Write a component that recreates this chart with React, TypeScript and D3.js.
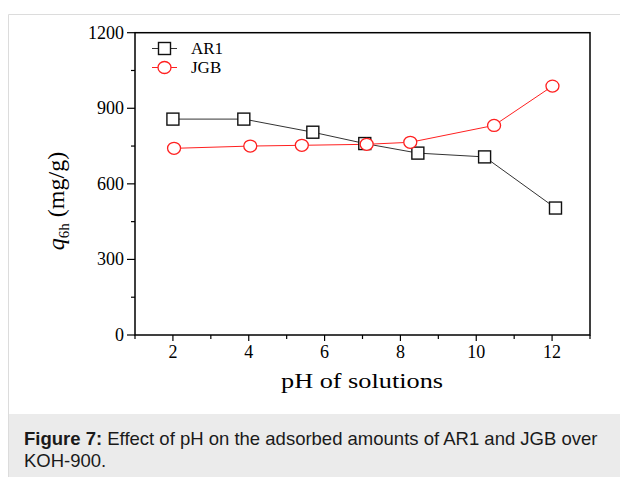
import React from "react";
import * as d3 from "d3";

const phAR1 = [2.0, 3.87, 5.69, 7.06, 8.46, 10.22, 12.09];
const qAR1 = [857, 857, 805, 760, 722, 707, 504];
const phJGB = [2.03, 4.04, 5.4, 7.11, 8.26, 10.47, 12.01];
const qJGB = [741, 750, 753, 757, 765, 832, 988];
const xMajor = [2, 4, 6, 8, 10, 12];
const xMinor = [1, 3, 5, 7, 9, 11, 13];
const yMajor = [0, 300, 600, 900, 1200];
const yMinor = [150, 450, 750, 1050];
const seriesNames = ["AR1", "JGB"];

export default function App() {
  const W = 620, H = 477;
  const L = 135, R = 590, T = 32.7, B = 335;
  const x = d3.scaleLinear().domain([1, 13]).range([L, R]);
  const y = d3.scaleLinear().domain([0, 1200]).range([B, T]);
  const ar1 = phAR1.map((p, i) => [x(p), y(qAR1[i])] as [number, number]);
  const jgb = phJGB.map((p, i) => [x(p), y(qJGB[i])] as [number, number]);
  const pathGen = d3.line();
  const serif = "'Liberation Serif', 'Times New Roman', serif";
  const sans = "'Liberation Sans', Arial, Helvetica, sans-serif";
  return (
    <svg width={W} height={H} style={{ position: "absolute", left: 0, top: 0, background: "#fff" }}>
      {/* frame of page */}
      <line x1={8.5} y1={14.5} x2={W} y2={14.5} stroke="#dcdcdc" />
      <line x1={8.5} y1={14.5} x2={8.5} y2={H} stroke="#dcdcdc" />
      <rect x={9} y={414} width={W - 9} height={H - 414} fill="#ebebeb" />
      <text x={24} y={445} fontFamily={sans} fontSize={18.5} fill="#1a1a1a">
        <tspan fontWeight="bold">Figure 7:</tspan> Effect of pH on the adsorbed amounts of AR1 and JGB over
      </text>
      <text x={24} y={467} fontFamily={sans} fontSize={18.5} fill="#1a1a1a">KOH-900.</text>

      {/* plot frame */}
      <rect x={L} y={T} width={R - L} height={B - T} fill="none" stroke="#000" strokeWidth={1.5} />
      {xMajor.map((v) => (
        <g key={"xm" + v}>
          <line x1={x(v)} x2={x(v)} y1={B} y2={B + 6} stroke="#000" strokeWidth={1.2} />
          <text x={x(v)} y={358} textAnchor="middle" fontFamily={serif} fontSize={18}>{v}</text>
        </g>
      ))}
      {xMinor.map((v) => (
        <line key={"xn" + v} x1={x(v)} x2={x(v)} y1={B} y2={B + 4} stroke="#000" strokeWidth={1.2} />
      ))}
      {yMajor.map((v) => (
        <g key={"ym" + v}>
          <line x1={L - 8} x2={L} y1={y(v)} y2={y(v)} stroke="#000" strokeWidth={1.2} />
          <text x={L - 11} y={y(v) + 6} textAnchor="end" fontFamily={serif} fontSize={18}>{v}</text>
        </g>
      ))}
      {yMinor.map((v) => (
        <line key={"yn" + v} x1={L - 4} x2={L} y1={y(v)} y2={y(v)} stroke="#000" strokeWidth={1.2} />
      ))}

      {/* axis titles */}
      <text x={362} y={388} textAnchor="middle" fontFamily={serif} fontSize={22} textLength={162} lengthAdjust="spacingAndGlyphs">pH of solutions</text>
      <text transform="translate(64,201) rotate(-90)" textAnchor="middle" fontFamily={serif} fontSize={24}>
        <tspan fontStyle="italic">q</tspan>
        <tspan fontSize={15} dy={5}>6h</tspan>
        <tspan dy={-5}> (mg/g)</tspan>
      </text>

      {/* series */}
      <path d={pathGen(jgb) || ""} fill="none" stroke="#ff2020" strokeWidth={1} />
      <path d={pathGen(ar1) || ""} fill="none" stroke="#333" strokeWidth={1} />
      {ar1.map(([cx, cy], i) => (
        <rect key={"s" + i} x={cx - 6} y={cy - 6} width={12} height={12} fill="#fff" stroke="#111" strokeWidth={1.4} />
      ))}
      {jgb.map(([cx, cy], i) => (
        <ellipse key={"c" + i} cx={cx} cy={cy} rx={6.5} ry={6} fill="#fff" stroke="#ff2020" strokeWidth={1.3} />
      ))}

      {/* legend */}
      <line x1={152} x2={177} y1={48.5} y2={48.5} stroke="#333" strokeWidth={1} />
      <rect x={158.5} y={42.5} width={12} height={12} fill="#fff" stroke="#111" strokeWidth={1.4} />
      <text x={191} y={54} fontFamily={serif} fontSize={17}>{seriesNames[0]}</text>
      <line x1={152} x2={177} y1={67.5} y2={67.5} stroke="#ff2020" strokeWidth={1} />
      <ellipse cx={164.5} cy={67.5} rx={6.5} ry={6} fill="#fff" stroke="#ff2020" strokeWidth={1.3} />
      <text x={191} y={73} fontFamily={serif} fontSize={17}>{seriesNames[1]}</text>
    </svg>
  );
}
